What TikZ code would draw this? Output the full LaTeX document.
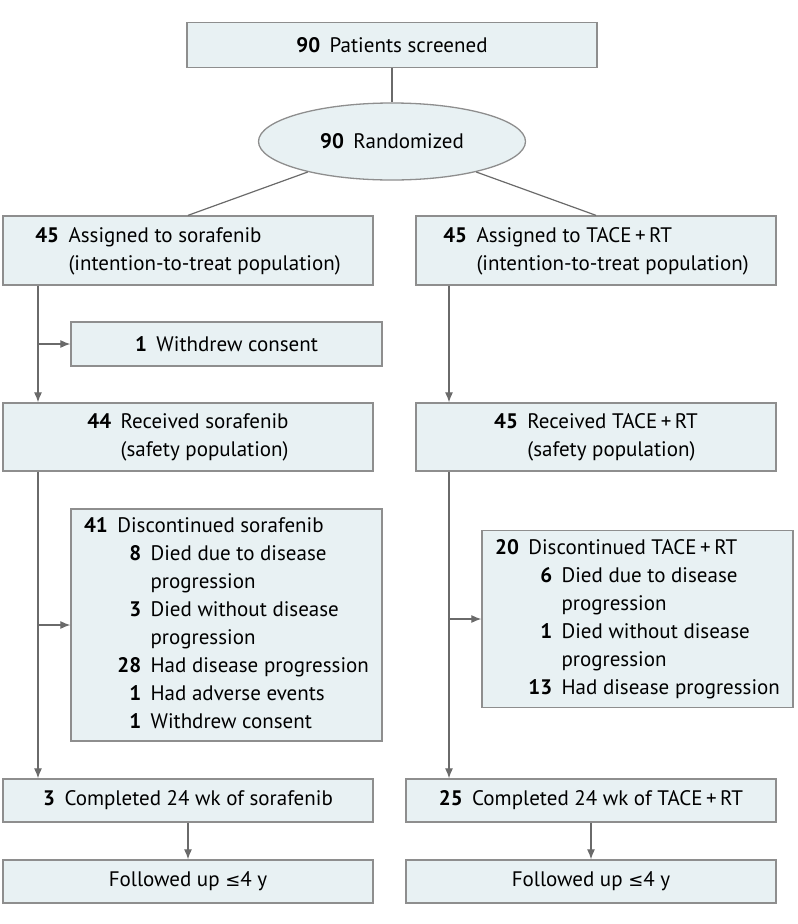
\documentclass[tikz,border=0pt]{standalone}
\usepackage{fontspec}
\setmainfont{PT Sans}
\newfontfamily\symfont{DejaVu Sans}
\usetikzlibrary{shapes.geometric,arrows.meta}
\definecolor{boxfill}{HTML}{E8F1F3}
\definecolor{boxline}{HTML}{8E8E8E}
\definecolor{arrgray}{HTML}{6A6A6A}
\newcommand{\tacert}{TACE\,+\,RT}
\newcommand{\leqy}{{\symfont\fontsize{18}{28}\selectfont ≤}}

\begin{document}
\begin{tikzpicture}[x=1pt,y=-1pt,
    box/.style={draw=boxline,fill=boxfill,line width=1.3pt,inner sep=0pt,
        font=\fontsize{21}{28}\selectfont,align=center},
    link/.style={draw=arrgray,line width=1.2pt},
    arr/.style={link,-{Latex[length=10pt,width=8pt]}}]%
    \useasboundingbox (0,0) rectangle (798,924);
    \coordinate (tS) at (38,0);
    \coordinate (tT) at (449,0);

    \node[box,minimum width=410pt,minimum height=45pt] (screen) at (392,45)
        {\textbf{90}\hspace{0.45em}Patients screened};
    \node[box,ellipse,minimum width=267pt,minimum height=77pt] (rand) at (392,141.5)
        {\textbf{90}\hspace{0.45em}Randomized};

    \node[box,minimum width=370pt,minimum height=69pt] (assignS) at (188,250.5)
        {\begin{tabular}{@{}r@{\hspace{0.45em}}l@{}}\textbf{45} & Assigned to sorafenib\\ & (intention-to-treat population)\end{tabular}};
    \node[box,minimum width=360pt,minimum height=69pt] (assignT) at (596,250.5)
        {\begin{tabular}{@{}r@{\hspace{0.45em}}l@{}}\textbf{45} & Assigned to \tacert\\ & (intention-to-treat population)\end{tabular}};

    \node[box,minimum width=311pt,minimum height=44pt] (withdrew) at (226.5,344)
        {\textbf{1}\hspace{0.45em}Withdrew consent};

    \node[box,minimum width=370pt,minimum height=68pt] (recvS) at (188,437)
        {\begin{tabular}{@{}r@{\hspace{0.45em}}l@{}}\textbf{44} & Received sorafenib\\ & (safety population)\end{tabular}};
    \node[box,minimum width=360pt,minimum height=68pt] (recvT) at (596,437)
        {\begin{tabular}{@{}r@{\hspace{0.45em}}l@{}}\textbf{45} & Received \tacert\\ & (safety population)\end{tabular}};

    \node[box,minimum width=311pt,minimum height=232pt] (discS) at (226.5,625)
        {\begin{tabular}{@{}r@{\hspace{0.45em}}r@{\hspace{0.45em}}l@{}}
            \textbf{41} & \multicolumn{2}{@{}l@{}}{Discontinued sorafenib}\\
            & \textbf{8} & Died due to disease\\
            & & progression\\
            & \textbf{3} & Died without disease\\
            & & progression\\
            & \textbf{28} & Had disease progression\\
            & \textbf{1} & Had adverse events\\
            & \textbf{1} & Withdrew consent
        \end{tabular}};
    \node[box,minimum width=311pt,minimum height=177pt] (discT) at (637.5,619)
        {\begin{tabular}{@{}r@{\hspace{0.45em}}r@{\hspace{0.45em}}l@{}}
            \textbf{20} & \multicolumn{2}{@{}l@{}}{Discontinued \tacert}\\
            & \textbf{6} & Died due to disease\\
            & & progression\\
            & \textbf{1} & Died without disease\\
            & & progression\\
            & \textbf{13} & Had disease progression
        \end{tabular}};

    \node[box,minimum width=370pt,minimum height=43pt] (compS) at (188,800.5)
        {\textbf{3}\hspace{0.45em}Completed 24 wk of sorafenib};
    \node[box,minimum width=370pt,minimum height=43pt] (compT) at (591,800.5)
        {\textbf{25}\hspace{0.45em}Completed 24 wk of \tacert};
    \node[box,minimum width=370pt,minimum height=43pt] (followS) at (188,881.5)
        {Followed up \leqy4 y};
    \node[box,minimum width=370pt,minimum height=43pt] (followT) at (591,881.5)
        {Followed up \leqy4 y};

    \draw[link] (screen) -- (rand);
    \draw[link] (rand) -- (assignS.north);
    \draw[link] (rand) -- (assignT.north);
    \draw[arr] (assignS.south -| tS) -- (recvS.north -| tS);
    \draw[arr] (withdrew.west -| tS) -- (withdrew.west);
    \draw[arr] (recvS.south -| tS) -- (compS.north -| tS);
    \draw[arr] (discS.west -| tS) -- (discS.west);
    \draw[arr] (assignT.south -| tT) -- (recvT.north -| tT);
    \draw[arr] (recvT.south -| tT) -- (compT.north -| tT);
    \draw[arr] (discT.west -| tT) -- (discT.west);
    \draw[arr] (compS) -- (followS);
    \draw[arr] (compT) -- (followT);
\end{tikzpicture}
\end{document}
